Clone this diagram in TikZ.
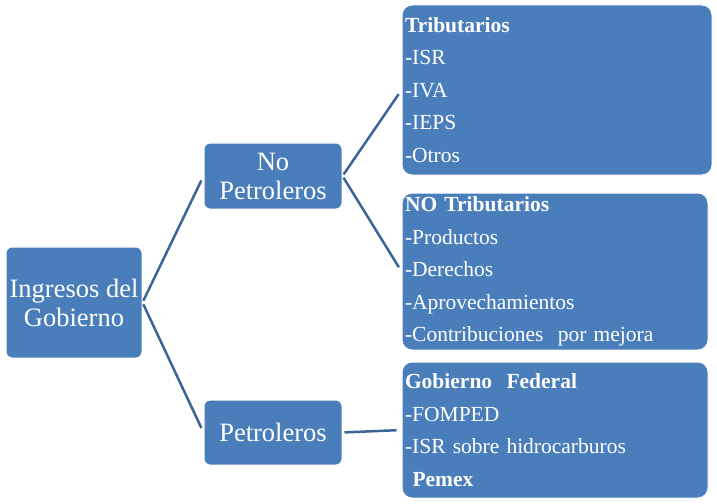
\documentclass[tikz,border=0pt]{standalone}
\usepackage{fontspec}
\setmainfont{Liberation Serif}
\usepackage{xcolor}
\usetikzlibrary{positioning}
\definecolor{boxblue}{HTML}{4A7EBB}
\definecolor{linkblue}{HTML}{3C6496}
\tikzset{
  leftbox/.style={draw=white, line width=1pt, fill=boxblue, rounded corners=6pt,
    text=white, align=center, inner sep=0pt,
    font=\fontsize{26.5}{29}\selectfont},
  rightbox/.style={draw=white, line width=1pt, fill=boxblue, rounded corners=10pt,
    text=white, align=left, inner xsep=3pt, inner ysep=0pt,
    font=\fontsize{21.5}{32.5}\selectfont},
  link/.style={draw=linkblue, line width=2.5pt, shorten >=5pt, shorten <=2pt}
}

\begin{document}
\begin{tikzpicture}[x=1pt,y=-1pt]
  \useasboundingbox (0,0) rectangle (717,503);

  \node[leftbox, minimum width=136pt, minimum height=111pt] (ingresos) at (74,302.5)
    {Ingresos del\\Gobierno};
  \node[leftbox, minimum width=138pt, minimum height=66pt] (nopet) at (273,176)
    {No\\Petroleros};
  \node[leftbox, minimum width=138pt, minimum height=65pt] (pet) at (273,432.5)
    {Petroleros};

  \node[rightbox, text width=304pt, minimum height=170pt] (trib) at (557,90)
    {\textbf{Tributarios}\\-ISR\\-IVA\\-IEPS\\-Otros};
  \node[rightbox, text width=300pt, minimum height=157pt] (notrib) at (555,271.5)
    {\textbf{NO Tributarios}\\-Productos\\-Derechos\\-Aprovechamientos\\-Contribuciones~ por mejora};
  \node[rightbox, text width=300pt, minimum height=136pt] (gobfed) at (555,430)
    {\textbf{Gobierno~ Federal}\\-FOMPED\\-ISR sobre hidrocarburos\\\hspace*{0.35em}\textbf{Pemex}};

  \foreach \a/\b in {ingresos/nopet, ingresos/pet, nopet/trib, nopet/notrib, pet/gobfed}
    \draw[link] (\a.east) -- (\b.west);

\end{tikzpicture}
\end{document}
